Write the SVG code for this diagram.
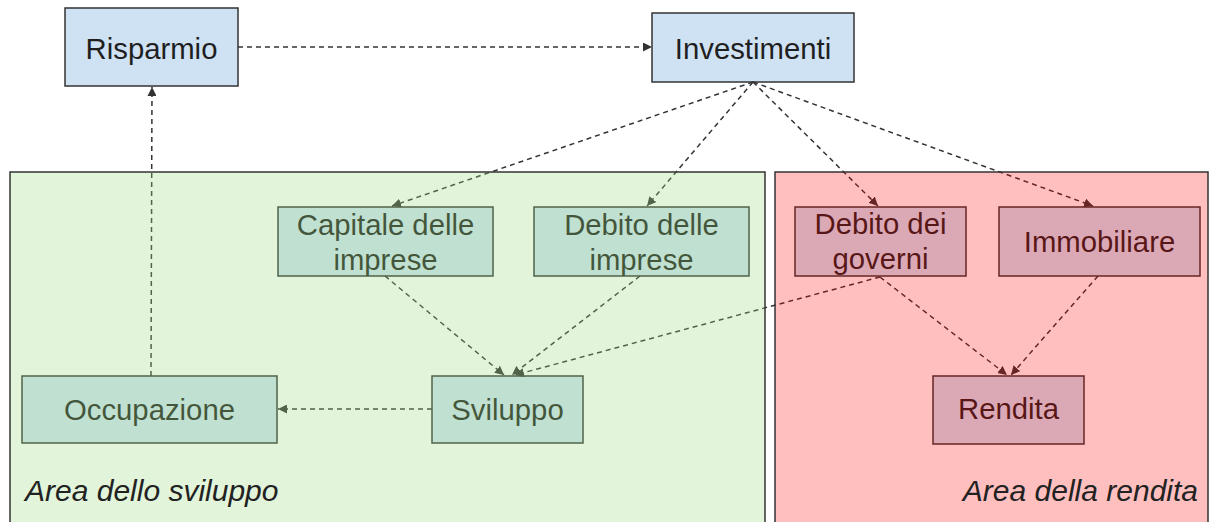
<svg xmlns="http://www.w3.org/2000/svg" width="1210" height="522" viewBox="0 0 1210 522">
  <style>
    .box { fill: #cfe2f3; stroke: #333333; stroke-width: 1.5; }
    .lbl { font-family: "Liberation Sans", Arial, sans-serif; font-size: 29.3px; fill: #1f1f1f; text-anchor: middle; }
    .edge { fill: none; stroke: #333333; stroke-width: 1.5; stroke-dasharray: 5 4; marker-end: url(#arrow); }
    .area { stroke: #333333; stroke-width: 1.5; }
    .alab { font-family: "Liberation Sans", Arial, sans-serif; font-size: 30px; font-style: italic; fill: #222222; }
  </style>
  <defs>
    <marker id="arrow" markerUnits="userSpaceOnUse" markerWidth="10" markerHeight="9" refX="9" refY="4.5" orient="auto">
      <path d="M0,0 L9,4.5 L0,9 z" fill="#333333"/>
    </marker>
  </defs>
  <rect x="0" y="0" width="1210" height="522" fill="#ffffff"/>

  <g id="node-risparmio">
    <rect class="box" x="65" y="8" width="173" height="78"/>
    <text class="lbl" x="151.5" y="59">Risparmio</text>
  </g>
  <g id="node-investimenti">
    <rect class="box" x="652" y="13" width="202" height="69"/>
    <text class="lbl" x="753" y="59">Investimenti</text>
  </g>
  <g id="node-capitale">
    <rect class="box" x="278" y="207" width="215" height="69"/>
    <text class="lbl" x="385.5" y="235">Capitale delle</text>
    <text class="lbl" x="385.5" y="270">imprese</text>
  </g>
  <g id="node-debito-imprese">
    <rect class="box" x="534" y="207" width="215" height="69"/>
    <text class="lbl" x="641.5" y="235">Debito delle</text>
    <text class="lbl" x="641.5" y="270">imprese</text>
  </g>
  <g id="node-debito-governi">
    <rect class="box" x="795" y="207" width="171" height="69"/>
    <text class="lbl" x="880.5" y="234">Debito dei</text>
    <text class="lbl" x="880.5" y="269">governi</text>
  </g>
  <g id="node-immobiliare">
    <rect class="box" x="999" y="207" width="201" height="69"/>
    <text class="lbl" x="1099.5" y="252">Immobiliare</text>
  </g>
  <g id="node-sviluppo">
    <rect class="box" x="432" y="376" width="151" height="67"/>
    <text class="lbl" x="507.5" y="420">Sviluppo</text>
  </g>
  <g id="node-occupazione">
    <rect class="box" x="22" y="376" width="255" height="67"/>
    <text class="lbl" x="149.5" y="420">Occupazione</text>
  </g>
  <g id="node-rendita">
    <rect class="box" x="933" y="376" width="151" height="68"/>
    <text class="lbl" x="1008.5" y="419">Rendita</text>
  </g>

  <g id="connectors">
    <path class="edge" d="M238,47 L652,47"/>
    <path class="edge" d="M151,376 L152,87"/>
    <path class="edge" d="M753,82 L392,206"/>
    <path class="edge" d="M753,82 L647,206"/>
    <path class="edge" d="M753,82 L878,206"/>
    <path class="edge" d="M753,82 L1093,206"/>
    <path class="edge" d="M385,276 L504,375"/>
    <path class="edge" d="M640,276 L512,375"/>
    <path class="edge" d="M880,277 L515,375"/>
    <path class="edge" d="M880,277 L1007,375"/>
    <path class="edge" d="M1098,276 L1011,375"/>
    <path class="edge" d="M432,409 L278,409"/>
  </g>

  <g id="area-sviluppo">
    <rect class="area" x="10" y="172" width="755" height="360" fill="rgb(155,222,129)" fill-opacity="0.29"/>
    <text class="alab" x="25" y="501">Area dello sviluppo</text>
  </g>
  <g id="area-rendita">
    <rect class="area" x="775" y="172" width="433" height="360" fill="rgb(255,0,0)" fill-opacity="0.25"/>
    <text class="alab" x="1198" y="501" text-anchor="end">Area della rendita</text>
  </g>
</svg>
